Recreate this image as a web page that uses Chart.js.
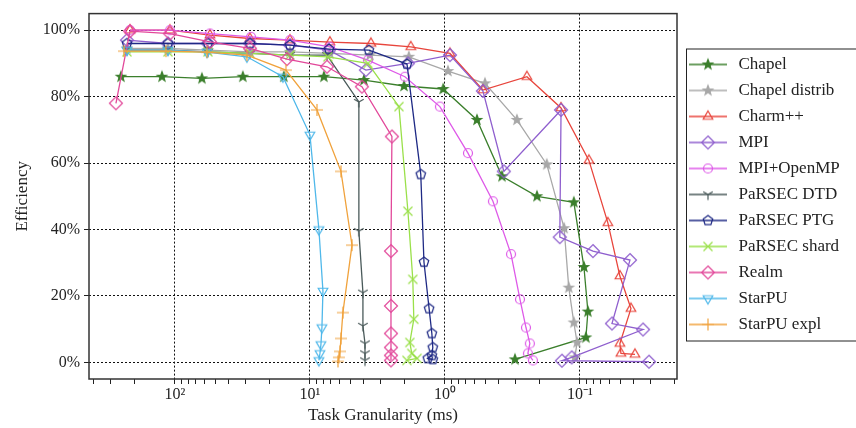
<!DOCTYPE html>
<html lang="en">
<head>
<meta charset="UTF-8">
<title>Efficiency vs task granularity</title>
<script src="https://cdn.jsdelivr.net/npm/chart.js"></script>
<style>
    html, body { margin: 0; padding: 0; background: #fff; }
</style>
</head>
<body>
<canvas id="chart" width="856" height="428"></canvas>

<script>
    // task granularity (ms) and efficiency (%)
    const chapelX = [251, 124.8, 63.1, 31.4, 15.6, 7.88, 3.98, 2.01, 1.03, 0.579, 0.378, 0.208, 0.111, 0.0934, 0.0873, 0.0903, 0.303];
    const chapelY = [86, 86, 85.5, 86, 86, 86, 85, 83.2, 82.3, 73, 56, 50, 48.2, 28.7, 15.3, 7.5, 0.9];

    const chapelDistX = [226.7, 112.7, 57.0, 27.8, 14.06, 7.11, 3.59, 1.85, 0.950, 0.505, 0.293, 0.176, 0.131, 0.121, 0.111, 0.105, 0.109];
    const chapelDistY = [94.5, 94.5, 94, 93.5, 93.5, 93, 92.5, 92, 87.7, 84, 73, 59.6, 40.4, 22.5, 12, 6, 1.5];

    const charmX = [215.4, 108.9, 55.0, 27.8, 14.06, 7.11, 3.53, 1.79, 0.918, 0.523, 0.247, 0.138, 0.0858, 0.0621, 0.0506, 0.0419, 0.0506, 0.0497, 0.0391];
    const charmY = [100, 100, 98.5, 97.5, 97, 96.4, 96, 95, 93, 82, 86, 76.6, 60.8, 42, 26, 16.2, 5.7, 2.7, 2.4];

    const mpiX = [226.7, 112.7, 57.0, 27.8, 14.06, 7.23, 3.85, 1.88, 0.918, 0.523, 0.366, 0.138, 0.141, 0.0801, 0.0426, 0.0579, 0.0341, 0.115, 0.136, 0.0308];
    const mpiY = [97, 96, 96, 96, 95.5, 94, 88, 90, 92.5, 81.7, 57.5, 76, 37.7, 33.5, 30.8, 11.7, 9.9, 1.5, 0.5, 0.2];

    const mpiOmpX = [215.4, 108.9, 55.0, 27.35, 14.06, 7.11, 3.72, 1.98, 1.09, 0.675, 0.441, 0.324, 0.278, 0.251, 0.235, 0.243, 0.223];
    const mpiOmpY = [100, 100, 99, 98, 97, 95, 91, 86, 77, 63, 48.5, 32.6, 19, 10.5, 5.7, 2.7, 0.6];

    const dtdX = [226.7, 112.7, 57.0, 27.8, 14.06, 7.48, 4.34, 4.34, 4.05, 4.05, 3.91, 3.91, 3.91];
    const dtdY = [94, 94, 93.5, 93, 92.5, 92.5, 78.4, 39.5, 21, 11, 5.7, 2.7, 0.6];

    const ptgX = [226.7, 112.7, 57.0, 27.8, 14.06, 7.23, 3.66, 1.91, 1.51, 1.43, 1.31, 1.25, 1.23, 1.25, 1.34, 1.23];
    const ptgY = [96, 96, 96, 96, 95.5, 94.3, 94, 89.8, 56.6, 30.2, 16.2, 8.7, 4.5, 2.1, 1.2, 0.9];

    const shardX = [226.7, 112.7, 57.0, 27.8, 14.06, 7.36, 3.72, 2.19, 1.88, 1.73, 1.70, 1.82, 1.76, 1.61, 1.91];
    const shardY = [93.5, 93.5, 93.5, 93, 92.5, 92, 90, 77, 45.5, 25, 13, 6, 2.7, 1.2, 0.6];

    const realmX = [273.5, 215.4, 108.9, 55.0, 27.8, 14.8, 7.48, 4.12, 2.47, 2.51, 2.51, 2.51, 2.51, 2.51, 2.51];
    const realmY = [78, 99.7, 99, 96.5, 94.5, 91.3, 89, 83, 68, 33.5, 17, 8.7, 4.5, 2.1, 0.6];

    const starpuX = [226.7, 112.7, 57.9, 29.3, 15.85, 10, 8.58, 8.01, 8.15, 8.29, 8.43, 8.58];
    const starpuY = [94, 94, 93.4, 92, 86, 68.5, 40, 21.5, 10.5, 5.4, 2.7, 0.6];

    const starpuExplX = [238.6, 116.6, 57.9, 29.3, 15.06, 8.87, 5.89, 4.88, 5.70, 5.89, 5.99, 6.10, 6.20];
    const starpuExplY = [93.7, 93.7, 93.4, 92.5, 88, 76, 57.5, 35.3, 15, 7.2, 3.3, 1.5, 0.3];

    const names = ['Chapel', 'Chapel distrib', 'Charm++', 'MPI', 'MPI+OpenMP', 'PaRSEC DTD',
        'PaRSEC PTG', 'PaRSEC shard', 'Realm', 'StarPU', 'StarPU expl'];
    const xs = [chapelX, chapelDistX, charmX, mpiX, mpiOmpX, dtdX, ptgX, shardX, realmX, starpuX, starpuExplX];
    const ys = [chapelY, chapelDistY, charmY, mpiY, mpiOmpY, dtdY, ptgY, shardY, realmY, starpuY, starpuExplY];
    const colors = ['#3b7f2c', '#a8a8a8', '#e8453c', '#8f5fce', '#de5ae8', '#4a5a5a',
        '#1f2a85', '#9ae04a', '#e2489a', '#4fb8ea', '#f0a23c'];
    const markers = ['star', 'star', 'triangle', 'diamond', 'circle', 'tri1',
        'pentagon', 'x', 'diamond', 'tridown', 'plus'];

    const FONT = 'Liberation Serif';

    function drawShape(ctx, shape, x, y, color) {
        ctx.strokeStyle = color;
        ctx.fillStyle = color;
        ctx.lineWidth = 1.2;
        ctx.beginPath();
        if (shape === 'star') {
            for (let k = 0; k < 10; k++) {
                const a = -Math.PI / 2 + k * Math.PI / 5;
                const rr = k % 2 ? 2.1 : 5;
                const px = x + rr * Math.cos(a), py = y + rr * Math.sin(a);
                k ? ctx.lineTo(px, py) : ctx.moveTo(px, py);
            }
            ctx.closePath();
            ctx.fill();
            ctx.stroke();
            return;
        }
        if (shape === 'triangle' || shape === 'tridown') {
            const s = shape === 'triangle' ? 1 : -1, R = 5.5;
            ctx.moveTo(x, y - s * R);
            ctx.lineTo(x + R * 0.87, y + s * R * 0.5);
            ctx.lineTo(x - R * 0.87, y + s * R * 0.5);
            ctx.closePath();
        } else if (shape === 'diamond') {
            const R = 6.5;
            ctx.moveTo(x, y - R); ctx.lineTo(x + R, y); ctx.lineTo(x, y + R); ctx.lineTo(x - R, y);
            ctx.closePath();
        } else if (shape === 'circle') {
            ctx.arc(x, y, 4.5, 0, Math.PI * 2);
        } else if (shape === 'pentagon') {
            for (let k = 0; k < 5; k++) {
                const a = -Math.PI / 2 + k * 2 * Math.PI / 5;
                const px = x + 5 * Math.cos(a), py = y + 5 * Math.sin(a);
                k ? ctx.lineTo(px, py) : ctx.moveTo(px, py);
            }
            ctx.closePath();
        } else if (shape === 'tri1') {
            ctx.moveTo(x, y); ctx.lineTo(x, y + 5.5);
            ctx.moveTo(x, y); ctx.lineTo(x - 4.8, y - 2.8);
            ctx.moveTo(x, y); ctx.lineTo(x + 4.8, y - 2.8);
        } else if (shape === 'x') {
            ctx.moveTo(x - 4.5, y - 4.5); ctx.lineTo(x + 4.5, y + 4.5);
            ctx.moveTo(x + 4.5, y - 4.5); ctx.lineTo(x - 4.5, y + 4.5);
        } else if (shape === 'plus') {
            ctx.moveTo(x - 6, y); ctx.lineTo(x + 6, y);
            ctx.moveTo(x, y - 6); ctx.lineTo(x, y + 6);
        }
        ctx.stroke();
    }

    function markerImage(shape, color) {
        const c = document.createElement('canvas');
        c.width = 18; c.height = 18;
        drawShape(c.getContext('2d'), shape, 9, 9, color);
        return c;
    }

    function legendImage(shape, color) {
        const c = document.createElement('canvas');
        c.width = 40; c.height = 16;
        const g = c.getContext('2d');
        g.strokeStyle = color;
        g.lineWidth = 1.3;
        g.beginPath(); g.moveTo(1, 8); g.lineTo(39, 8); g.stroke();
        drawShape(g, shape, 20, 8, color);
        return c;
    }

    const datasets = names.map((name, i) => ({
        label: name,
        data: xs[i].map((x, j) => ({x: x, y: ys[i][j]})),
        borderColor: colors[i],
        backgroundColor: colors[i],
        borderWidth: 1.3,
        pointStyle: markerImage(markers[i], colors[i]),
        pointRadius: 5,
        order: names.length - i,
        legendImg: legendImage(markers[i], colors[i])
    }));

    const supers = {'2': '10²', '1': '10¹', '0': '10⁰', '-1': '10⁻¹'};
    const isDecade = v => Math.abs(Math.log10(v) - Math.round(Math.log10(v))) < 1e-6;

    const framePlugin = {
        id: 'frame',
        beforeUpdate(chart) {
            const lg = chart.legend;
            if (lg && !lg._patched) {
                const fit = lg.fit.bind(lg);
                lg.fit = function () { fit(); this.width = 179; };
                lg._patched = true;
            }
        },
        afterDraw(chart) {
            const {ctx, chartArea: a} = chart;
            ctx.save();
            ctx.strokeStyle = '#333';
            ctx.lineWidth = 1.5;
            ctx.strokeRect(a.left, a.top, a.right - a.left, a.bottom - a.top);
            const lg = chart.legend;
            const boxes = lg.legendHitBoxes;
            if (boxes && boxes.length) {
                const top = boxes[0].top - 7;
                const bottom = boxes[boxes.length - 1].top + boxes[boxes.length - 1].height + 8;
                ctx.lineWidth = 1;
                ctx.strokeStyle = '#222';
                ctx.strokeRect(lg.left + 9.5, top, 200, bottom - top);
            }
            ctx.restore();
        }
    };

    const chart = new Chart(document.getElementById('chart'), {
        type: 'line',
        data: {datasets: datasets},
        plugins: [framePlugin],
        options: {
            responsive: false,
            animation: false,
            layout: {padding: {top: 11}},
            scales: {
                x: {
                    type: 'logarithmic',
                    reverse: true,
                    min: 0.0191,
                    max: 433,
                    afterBuildTicks(scale) {
                        const t = [];
                        for (let e = -2; e <= 2; e++) {
                            for (let m = 1; m <= 9; m++) {
                                const v = m * Math.pow(10, e);
                                if (v >= scale.min && v <= scale.max) t.push({value: v});
                            }
                        }
                        scale.ticks = t;
                    },
                    afterFit(scale) { scale.height = 49; },
                    ticks: {
                        autoSkip: false,
                        maxRotation: 0,
                        padding: 1,
                        color: '#222',
                        font: {family: FONT, size: 16},
                        callback: v => isDecade(v) ? supers[String(Math.round(Math.log10(v)))] : ''
                    },
                    grid: {
                        color: c => (c.tick && isDecade(c.tick.value)) ? '#111' : 'rgba(0,0,0,0)',
                        tickColor: '#222',
                        tickLength: 5,
                        lineWidth: 1
                    },
                    border: {display: false, dash: [2, 2]},
                    title: {
                        display: true,
                        text: 'Task Granularity (ms)',
                        color: '#222',
                        font: {family: FONT, size: 17},
                        padding: {top: 0, bottom: 2}
                    }
                },
                y: {
                    min: -5,
                    max: 105,
                    afterBuildTicks(scale) {
                        scale.ticks = [0, 20, 40, 60, 80, 100].map(v => ({value: v}));
                    },
                    afterFit(scale) { scale.width = 89; },
                    ticks: {
                        padding: 4,
                        color: '#222',
                        font: {family: FONT, size: 16},
                        callback: v => v + '%'
                    },
                    grid: {color: '#111', tickColor: '#222', tickLength: 5, lineWidth: 1},
                    border: {display: false, dash: [2, 2]},
                    title: {
                        display: true,
                        text: 'Efficiency',
                        color: '#222',
                        font: {family: FONT, size: 17},
                        padding: {top: 12, bottom: 0}
                    }
                }
            },
            plugins: {
                tooltip: {enabled: false},
                legend: {
                    position: 'right',
                    align: 'start',
                    title: {display: true, text: '', font: {size: 10, lineHeight: 1}, padding: {top: 0, bottom: 26}},
                    labels: {
                        usePointStyle: true,
                        pointStyleWidth: 44,
                        padding: 9,
                        color: '#222',
                        font: {family: FONT, size: 17},
                        generateLabels: ch => ch.data.datasets.map((d, i) => ({
                            text: d.label,
                            pointStyle: d.legendImg,
                            fillStyle: d.borderColor,
                            strokeStyle: d.borderColor,
                            lineWidth: 0,
                            fontColor: '#222',
                            hidden: false,
                            datasetIndex: i
                        }))
                    }
                }
            }
        }
    });
</script>
</body>
</html>
